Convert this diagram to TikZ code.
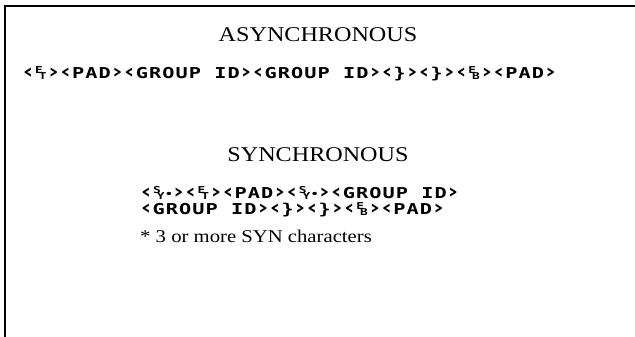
\documentclass[tikz,border=0pt]{standalone}
\usepackage{fontspec}
\usepackage{tikz}
\usetikzlibrary{positioning}
\newfontfamily\termfont[FakeStretch=1.35,LetterSpace=7]{DejaVu Sans Mono}
\newfontfamily\headfont[FakeStretch=1.15]{Liberation Serif}
\newcommand{\ctlsize}{\fontsize{9.5}{10}\selectfont}
% small stacked control letters inside one cell
\newcommand{\ctl}[2]{\makebox[12.5pt][c]{\raisebox{5pt}{\ctlsize #1}\kern-4pt\raisebox{-0.5pt}{\ctlsize #2}}}
\newcommand{\synch}{\ctl{S}{Y}\makebox[7pt][l]{\raisebox{1pt}{\ctlsize •}}}
\newcommand{\lb}{\makebox[12.5pt][c]{\scalebox{1.35}{‹}}}
\newcommand{\rb}{\makebox[12.5pt][c]{\scalebox{1.35}{›}}}
\tikzset{
    frameline/.style={line width=1.6pt, black},
    heading/.style={inner sep=0pt, font=\headfont\fontsize{21}{24}\selectfont},
    termline/.style={inner sep=0pt, font=\termfont\bfseries\fontsize{15}{17}\selectfont},
    note/.style={inner sep=0pt, font=\headfont\fontsize{18}{21}\selectfont},
}
\begin{document}
\begin{tikzpicture}[x=1pt, y=-1pt]
    \useasboundingbox (0,0) rectangle (635,337);

    % Cornice (solo lato superiore e sinistro)
    \draw[frameline] (5,337) -- (5,6) -- (635,6);

    % Asincrono
    \node[heading] (asynctitle) at (318,35) {ASYNCHRONOUS};
    \node[termline, anchor=west] (asyncseq) at (22,74)
        {\lb\ctl{E}{T}\rb\lb PAD\rb\lb GROUP ID\rb\lb GROUP ID\rb\lb\}\rb\lb\}\rb\lb\ctl{E}{B}\rb\lb PAD\rb};

    % Sincrono
    \node[heading] (synctitle) at (318,155) {SYNCHRONOUS};
    \node[termline, anchor=west] (syncseqa) at (140,193)
        {\lb\synch\rb\lb\ctl{E}{T}\rb\lb PAD\rb\lb\synch\rb\lb GROUP ID\rb};
    \node[termline, below=3pt of syncseqa.south west, anchor=north west] (syncseqb)
        {\lb GROUP ID\rb\lb\}\rb\lb\}\rb\lb\ctl{E}{B}\rb\lb PAD\rb};

    \node[note, below=13pt of syncseqb.south west, anchor=north west] (synnote)
        {* 3 or more SYN characters};
\end{tikzpicture}
\end{document}
